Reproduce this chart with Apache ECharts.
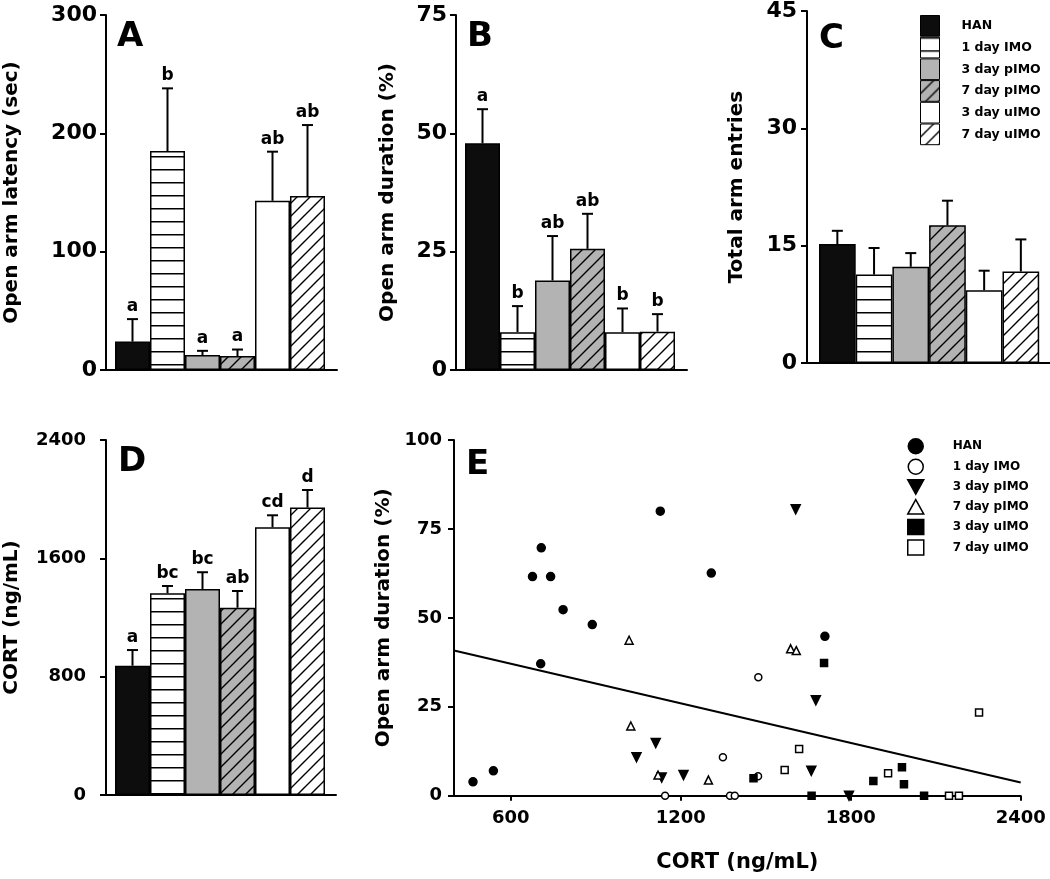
<!DOCTYPE html>
<html><head><meta charset="utf-8">
<script src="https://cdn.jsdelivr.net/npm/echarts@6/dist/echarts.min.js"></script>
<style>html,body{margin:0;padding:0;background:#fff}#c{width:1050px;height:879px}</style>
</head><body><div id="c"></div>
<script>
// ---------- data ----------
const groups = ['HAN', '1 day IMO', '3 day pIMO', '7 day pIMO', '3 day uIMO', '7 day uIMO'];

const latencyMean = [24, 185, 12.7, 11.8, 143, 147];
const latencySem = [19, 53, 3.5, 5.5, 41.5, 60];
const latencyLetters = ['a', 'b', 'a', 'a', 'ab', 'ab'];
const latencyTicks = [0, 300, 100];

const durationMean = [47.9, 8.0, 18.9, 25.6, 8.0, 8.1];
const durationSem = [7.2, 5.5, 9.4, 7.4, 5.0, 3.7];
const durationLetters = ['a', 'b', 'ab', 'ab', 'b', 'b'];
const durationTicks = [0, 75, 25];

const entriesMean = [15.2, 11.3, 12.3, 17.6, 9.3, 11.7];
const entriesSem = [1.7, 3.4, 1.75, 3.15, 2.5, 4.1];
const entriesLetters = ['', '', '', '', '', ''];
const entriesTicks = [0, 45, 15];

const cortMean = [874, 1364, 1393, 1266, 1810, 1943];
const cortSem = [106, 49, 113, 113, 81, 119];
const cortLetters = ['a', 'bc', 'bc', 'ab', 'cd', 'd'];
const cortTicks = [0, 2400, 800];

const scatterHAN = [[467,3.9],[539,7.0],[677,61.6],[708,69.7],[741,61.6],[785,52.3],[888,48.1],[706,37.1],[1128,80.0],[1308,62.6],[1709,44.8]];
const scatterIMO1 = [[1145,0],[1374,0],[1391,0],[1349,10.8],[1474,33.3],[1473,5.5]];
const scatterPIMO3 = [[1044,10.8],[1112,14.8],[1133,5.1],[1210,5.8],[1606,80.5],[1677,26.8],[1661,7.0],[1794,0]];
const scatterPIMO7 = [[1018,43.7],[1024,19.6],[1120,5.8],[1298,4.4],[1588,41.3],[1608,40.8]];
const scatterUIMO3 = [[1457,4.9],[1706,37.3],[1662,0],[1880,4.1],[1981,8.0],[1988,3.2],[2059,0]];
const scatterUIMO7 = [[1567,7.2],[1618,13.1],[1932,6.3],[2147,0],[2182,0],[2253,23.4]];
const fitLine = [[400,40.8],[2400,3.7]];
const eXRange = [400, 2400];
const eXTicks = [600, 1200, 1800, 2400];
const eYTicks = [0, 100, 25];

// ---------- styling ----------
const FONT = '"DejaVu Sans", sans-serif';
const GRAY = '#b3b3b3';
const plain = v => String(v);
function hPattern() {
  const c = document.createElement('canvas'); c.width = 8; c.height = 13;
  const g = c.getContext('2d');
  g.fillStyle = '#fff'; g.fillRect(0, 0, 8, 13);
  g.fillStyle = '#000'; g.fillRect(0, 0, 8, 1.5);
  return { image: c, repeat: 'repeat' };
}
function dPattern(bg) {
  const s = 13;
  const c = document.createElement('canvas'); c.width = s; c.height = s;
  const g = c.getContext('2d');
  g.fillStyle = bg; g.fillRect(0, 0, s, s);
  g.strokeStyle = '#000'; g.lineWidth = 1.4;
  g.beginPath();
  g.moveTo(-2, s + 2); g.lineTo(s + 2, -2);
  g.moveTo(-2, 2); g.lineTo(2, -2);
  g.moveTo(s - 2, s + 2); g.lineTo(s + 2, s - 2);
  g.stroke();
  return { image: c, repeat: 'repeat' };
}
const fills = ['#0d0d0d', hPattern(), GRAY, dPattern(GRAY), '#ffffff', dPattern('#ffffff')];

const grids = [], xAxes = [], yAxes = [], series = [];

function barPanel(p) {
  const gi = grids.length;
  grids.push({ left: p.left, top: p.top, width: p.width, height: p.height });
  const mn = -(p.barLeft - p.left) / p.barW;
  xAxes.push({
    gridIndex: gi, type: 'value', min: mn, max: mn + p.width / p.barW,
    axisLine: { show: true, onZero: false, lineStyle: { color: '#000', width: 2 } },
    axisTick: { show: false }, axisLabel: { show: false }, splitLine: { show: false }
  });
  yAxes.push({
    gridIndex: gi, type: 'value', min: p.ticks[0], max: p.ticks[1], interval: p.ticks[2],
    name: p.name, nameLocation: 'middle', nameGap: p.nameGap,
    nameTextStyle: { fontFamily: FONT, fontWeight: 'bold', fontSize: 20, color: '#000' },
    axisLine: { show: true, onZero: false, lineStyle: { color: '#000', width: 2 } },
    axisTick: { show: true, length: 6, lineStyle: { color: '#000', width: 2 } },
    axisLabel: { margin: p.labelMargin, formatter: plain, fontFamily: FONT, fontWeight: 'bold', fontSize: p.labelSize, color: '#000' },
    splitLine: { show: false }
  });
  series.push({
    type: 'bar', name: 'bars' + gi, xAxisIndex: gi, yAxisIndex: gi, barWidth: p.barW,
    barGap: '-100%',
    data: p.means.map((v, i) => ({ value: [i + 0.5, v], itemStyle: { color: fills[i] } })),
    itemStyle: { borderColor: '#000', borderWidth: 1.5 },
    emphasis: { disabled: true }, silent: true, z: 2
  });
  const letters = p.letters;
  series.push({
    type: 'custom', name: 'err' + gi, xAxisIndex: gi, yAxisIndex: gi, silent: true, z: 3,
    data: p.means.map((v, i) => [i + 0.5, v, v + p.sems[i]]),
    renderItem: function (params, api) {
      const x = api.value(0);
      const p0 = api.coord([x, api.value(1)]);
      const p1 = api.coord([x, api.value(2)]);
      return {
        type: 'group', children: [
          { type: 'line', shape: { x1: p0[0], y1: p0[1], x2: p1[0], y2: p1[1] }, style: { stroke: '#000', lineWidth: 2 } },
          { type: 'line', shape: { x1: p1[0] - 5.5, y1: p1[1], x2: p1[0] + 5.5, y2: p1[1] }, style: { stroke: '#000', lineWidth: 2 } },
          { type: 'text', x: p1[0], y: p1[1] - 4, style: { text: letters[params.dataIndex], align: 'center', verticalAlign: 'bottom', textAlign: 'center', textVerticalAlign: 'bottom', font: 'bold 17px ' + FONT, fill: '#000' } }
        ]
      };
    }
  });
}

barPanel({ left: 106, top: 15, width: 231, height: 355, barLeft: 115, barW: 35, ticks: latencyTicks,
  means: latencyMean, sems: latencySem, letters: latencyLetters, name: 'Open arm latency (sec)', nameGap: 84, labelMargin: 9, labelSize: 22 });
barPanel({ left: 456, top: 15, width: 231, height: 355, barLeft: 465, barW: 35, ticks: durationTicks,
  means: durationMean, sems: durationSem, letters: durationLetters, name: 'Open arm duration (%)', nameGap: 58, labelMargin: 9, labelSize: 22 });
barPanel({ left: 807, top: 9, width: 243, height: 354, barLeft: 819, barW: 36.7, ticks: entriesTicks,
  means: entriesMean, sems: entriesSem, letters: entriesLetters, name: 'Total arm entries', nameGap: 60, labelMargin: 10, labelSize: 22 });
barPanel({ left: 106, top: 440, width: 230, height: 355, barLeft: 115, barW: 35, ticks: cortTicks,
  means: cortMean, sems: cortSem, letters: cortLetters, name: 'CORT (ng/mL)', nameGap: 84, labelMargin: 20, labelSize: 18 });

// ---------- panel E ----------
const ge = grids.length;
grids.push({ left: 454, top: 440, width: 566.7, height: 355.7 });
xAxes.push({
  gridIndex: ge, type: 'value', min: eXRange[0], max: eXRange[1],
  name: 'CORT (ng/mL)', nameLocation: 'middle', nameGap: 56,
  nameTextStyle: { fontFamily: FONT, fontWeight: 'bold', fontSize: 21, color: '#000' },
  axisLine: { show: true, onZero: false, lineStyle: { color: '#000', width: 2 } },
  axisTick: { show: true, length: 5, customValues: eXTicks, lineStyle: { color: '#000', width: 2 } },
  axisLabel: { customValues: eXTicks, formatter: plain, margin: 14, fontFamily: FONT, fontWeight: 'bold', fontSize: 18, color: '#000' },
  splitLine: { show: false }
});
yAxes.push({
  gridIndex: ge, type: 'value', min: eYTicks[0], max: eYTicks[1], interval: eYTicks[2],
  name: 'Open arm duration (%)', nameLocation: 'middle', nameGap: 50,
  nameTextStyle: { fontFamily: FONT, fontWeight: 'bold', fontSize: 20, color: '#000' },
  axisLine: { show: true, onZero: false, lineStyle: { color: '#000', width: 2 } },
  axisTick: { show: true, length: 6, lineStyle: { color: '#000', width: 2 } },
  axisLabel: { margin: 12, formatter: plain, fontFamily: FONT, fontWeight: 'bold', fontSize: 18, color: '#000' },
  splitLine: { show: false }
});
series.push({
  type: 'line', name: 'fit', xAxisIndex: ge, yAxisIndex: ge, data: fitLine, showSymbol: false,
  lineStyle: { color: '#000', width: 2 }, silent: true, z: 2
});
const scatterDefs = [
  { data: scatterHAN, symbol: 'circle', size: 8, rotate: 0, fill: '#000' },
  { data: scatterIMO1, symbol: 'circle', size: 7, rotate: 0, fill: '#fff' },
  { data: scatterPIMO3, symbol: 'triangle', size: 9, rotate: 180, fill: '#000' },
  { data: scatterPIMO7, symbol: 'triangle', size: 8, rotate: 0, fill: '#fff' },
  { data: scatterUIMO3, symbol: 'rect', size: 7, rotate: 0, fill: '#000' },
  { data: scatterUIMO7, symbol: 'rect', size: 7, rotate: 0, fill: '#fff' }
];
scatterDefs.forEach((d, i) => {
  series.push({
    type: 'scatter', name: groups[i], xAxisIndex: ge, yAxisIndex: ge, data: d.data,
    symbol: d.symbol, symbolSize: d.size, symbolRotate: d.rotate,
    itemStyle: { color: d.fill, borderColor: '#000', borderWidth: 1.5, opacity: 1 },
    silent: true, z: 4
  });
});

// ---------- legends ----------
const legendC = {
  orient: 'vertical', left: 920, top: 15, padding: 0, itemWidth: 19, itemHeight: 20.7, itemGap: 0,
  selectedMode: false,
  textStyle: { fontFamily: FONT, fontWeight: 'bold', fontSize: 12.5, color: '#000', padding: [0, 0, 0, 17] },
  data: groups.map((g, i) => ({ name: g, icon: 'rect', itemStyle: { color: fills[i], borderColor: '#000', borderWidth: 1, opacity: 1 } }))
};
const eIcons = ['circle', 'circle', 'path://M0,0L10,0L5,9Z', 'path://M5,0L10,9L0,9Z', 'rect', 'rect'];
const eFills = ['#000', '#fff', '#000', '#fff', '#000', '#fff'];
const legendE = {
  orient: 'vertical', left: 907, top: 438, padding: 0, itemWidth: 16, itemHeight: 15, itemGap: 4,
  selectedMode: false,
  textStyle: { fontFamily: FONT, fontWeight: 'bold', fontSize: 12, color: '#000', padding: [0, 0, 0, 24] },
  data: groups.map((g, i) => ({ name: g, icon: eIcons[i], itemStyle: { color: eFills[i], borderColor: '#000', borderWidth: 1.5, opacity: 1 } }))
};

const panelLetters = [['A', 117, 20], ['B', 467, 20], ['C', 819, 22], ['D', 118, 445], ['E', 466, 448]];

const chart = echarts.init(document.getElementById('c'), null, { renderer: 'canvas' });
chart.setOption({
  animation: false,
  backgroundColor: '#fff',
  title: panelLetters.map(t => ({ text: t[0], left: t[1], top: t[2], padding: 0,
    textStyle: { fontFamily: FONT, fontWeight: 'bold', fontSize: 34, color: '#000' } })),
  legend: [legendC, legendE],
  grid: grids, xAxis: xAxes, yAxis: yAxes, series: series
});
</script></body></html>
